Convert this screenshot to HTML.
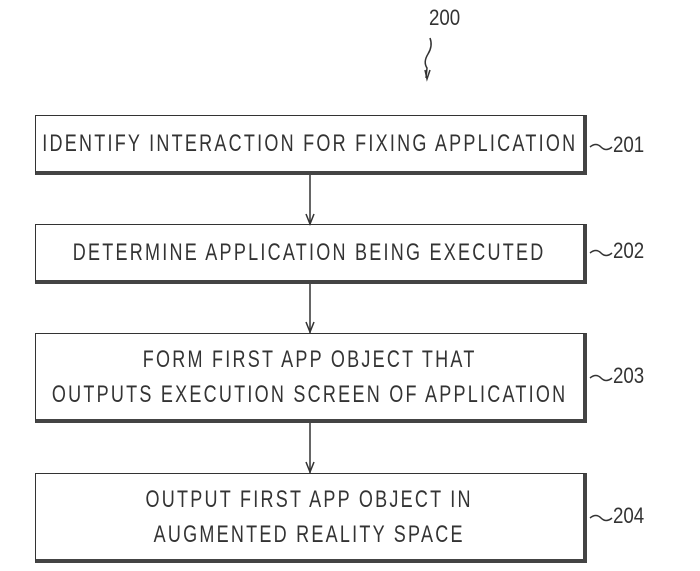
<!DOCTYPE html>
<html><head><style>
body{margin:0;width:700px;height:571px;background:#fff;position:relative;overflow:hidden;font-family:"Liberation Sans",sans-serif;color:#222}
.b{position:absolute;left:35px;width:552px;border:1.5px solid #333;border-right:4px solid #444;border-bottom:4px solid #444;box-sizing:border-box;display:flex;align-items:center;justify-content:center;text-align:center}
.t{font-size:24px;line-height:35px;letter-spacing:3px;transform:scaleX(0.75);white-space:nowrap;color:#333}
.l{position:absolute;font-size:22px;line-height:24px;transform:scaleX(0.85);transform-origin:left;color:#333}
</style></head><body>
<svg width="700" height="571" style="position:absolute;left:0;top:0">
<g stroke="#333" stroke-width="1.5" fill="none">
<path d="M430 38 q3 8 -2 16 q-5 8 -1 14 l-1 10"/>
<path d="M425 70 l2 9 l3 -9"/>
<line x1="310" y1="174" x2="310" y2="225"/><path d="M306 214 l4 10 l4 -10"/>
<line x1="310" y1="283" x2="310" y2="333"/><path d="M306 322 l4 10 l4 -10"/>
<line x1="310" y1="423" x2="310" y2="473"/><path d="M306 462 l4 10 l4 -10"/>
<path d="M590 147 q6 -5 11 0 q5 5 11 0"/>
<path d="M590 253 q6 -5 11 0 q5 5 11 0"/>
<path d="M590 378 q6 -5 11 0 q5 5 11 0"/>
<path d="M590 518 q6 -5 11 0 q5 5 11 0"/>
</g></svg>
<div class="l" style="left:429px;top:6px">200</div>
<div class="b" style="top:115px;height:60px"><div class="t">IDENTIFY INTERACTION FOR FIXING APPLICATION</div></div>
<div class="b" style="top:224px;height:60px"><div class="t">DETERMINE APPLICATION BEING EXECUTED</div></div>
<div class="b" style="top:333px;height:90px"><div class="t">FORM FIRST APP OBJECT THAT<br>OUTPUTS EXECUTION SCREEN OF APPLICATION</div></div>
<div class="b" style="top:473px;height:90px"><div class="t">OUTPUT FIRST APP OBJECT IN<br>AUGMENTED REALITY SPACE</div></div>
<div class="l" style="left:613px;top:133px">201</div>
<div class="l" style="left:613px;top:239px">202</div>
<div class="l" style="left:613px;top:364px">203</div>
<div class="l" style="left:613px;top:504px">204</div>
</body></html>
